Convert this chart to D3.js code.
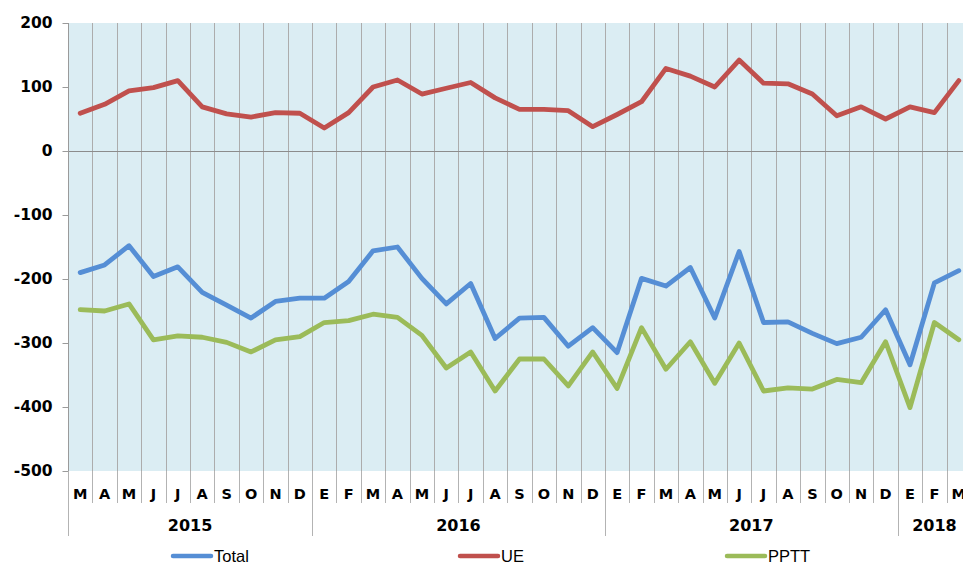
<!DOCTYPE html>
<html>
<head>
<meta charset="utf-8">
<script src="https://cdn.jsdelivr.net/npm/d3@7"></script>
<style>
  html, body { margin: 0; padding: 0; background: #fff; overflow: hidden; }
  svg { display: block; }
</style>
</head>
<body>
<svg id="chart" width="963" height="565"></svg>
<script>
// ---- data ----
const monthLabels = ["M","A","M","J","J","A","S","O","N","D",
  "E","F","M","A","M","J","J","A","S","O","N","D",
  "E","F","M","A","M","J","J","A","S","O","N","D",
  "E","F","M"];
const yearLabels = ["2015", "2016", "2017", "2018"];
const monthsPerYear = [10, 12, 12, 3];
const yTicks = [-500, -400, -300, -200, -100, 0, 100, 200];

const total = [-190, -178, -148, -196, -181, -221, -241, -261, -235, -230, -230,
  -204, -156, -150, -199, -239, -207, -293, -261, -260, -305, -276, -315,
  -199, -211, -182, -261, -157, -268, -267, -285, -301, -291, -248, -334, -206, -187];
const ue = [59, 73, 94, 99, 110, 69, 58, 53, 60, 59, 36,
  60, 100, 111, 89, 98, 107, 83, 65, 65, 63, 38, 57,
  77, 129, 117, 100, 142, 106, 105, 89, 55, 69, 50, 69, 60, 110];
const pptt = [-248, -250, -239, -295, -289, -291, -299, -314, -295, -290, -268,
  -265, -255, -260, -288, -339, -314, -375, -325, -325, -367, -314, -371,
  -276, -341, -298, -363, -300, -375, -370, -372, -357, -362, -298, -401, -268, -295];

const seriesNames = ["Total", "UE", "PPTT"];
const seriesColors = ["#558ed5", "#c0504d", "#9bbb59"];
const seriesData = [total, ue, pptt];

// ---- layout ----
const svg = d3.select("#chart");
const pLeft = 68, pRight = 971, pTop = 23, pBottom = 471;
const idx = d3.range(monthLabels.length);

const x = d3.scaleBand().domain(idx).range([pLeft, pRight]).paddingInner(0).paddingOuter(0);
const y = d3.scaleLinear().domain([-500, 200]).range([pBottom, pTop]);

// background
svg.append("rect")
  .attr("x", pLeft).attr("y", pTop)
  .attr("width", pRight - pLeft).attr("height", pBottom - pTop)
  .attr("fill", "#dbedf3");

// vertical gridlines at month boundaries
const gridColor = "#acacac";
svg.append("g").selectAll("line")
  .data(idx.slice(1))
  .join("line")
  .attr("x1", d => Math.round(x(d)) + 0.5).attr("x2", d => Math.round(x(d)) + 0.5)
  .attr("y1", pTop).attr("y2", pBottom)
  .attr("stroke", gridColor).attr("stroke-width", 1);

// zero line
svg.append("line")
  .attr("x1", pLeft).attr("x2", pRight)
  .attr("y1", Math.round(y(0)) + 0.5).attr("y2", Math.round(y(0)) + 0.5)
  .attr("stroke", "#8c8c8c").attr("stroke-width", 1);

// y axis
const yAxis = d3.axisLeft(y).tickValues(yTicks).tickSize(6).tickPadding(10)
  .tickFormat(d => String(d));
const yG = svg.append("g").attr("transform", `translate(${pLeft + 0.5},0)`).call(yAxis);
yG.select(".domain").attr("stroke", "#9a9a9a").attr("d", `M0,${pTop}V${pBottom}`);
yG.selectAll(".tick line").attr("stroke", "#9a9a9a");
yG.selectAll(".tick text")
  .attr("font-family", "'DejaVu Sans', Verdana, sans-serif")
  .attr("font-weight", "bold")
  .attr("font-size", "15.5px")
  .attr("fill", "#000");

// x axis: month labels and separators
const axisG = svg.append("g");
const bx = i => (i < monthLabels.length ? x(i) : pRight);

axisG.selectAll("line.msep")
  .data(idx.concat([monthLabels.length]))
  .join("line")
  .attr("class", "msep")
  .attr("x1", d => Math.round(bx(d)) + 0.5)
  .attr("x2", d => Math.round(bx(d)) + 0.5)
  .attr("y1", pBottom).attr("y2", 503)
  .attr("stroke", "#b3b3b3");

axisG.selectAll("text.month")
  .data(idx)
  .join("text")
  .attr("class", "month")
  .attr("x", d => x(d) + x.bandwidth() / 2)
  .attr("y", 498.5)
  .attr("text-anchor", "middle")
  .attr("font-family", "'DejaVu Sans', Verdana, sans-serif")
  .attr("font-weight", "bold")
  .attr("font-size", "14.5px")
  .attr("fill", "#000")
  .text(d => monthLabels[d]);

// year groups
let startIdx = 0;
const yearGroups = yearLabels.map((yl, i) => {
  const g = { label: yl, start: startIdx, end: startIdx + monthsPerYear[i] };
  startIdx += monthsPerYear[i];
  return g;
});

axisG.selectAll("line.ysep")
  .data(yearGroups.map(g => g.start))
  .join("line")
  .attr("class", "ysep")
  .attr("x1", d => Math.round(bx(d)) + 0.5).attr("x2", d => Math.round(bx(d)) + 0.5)
  .attr("y1", pBottom).attr("y2", 536)
  .attr("stroke", "#b3b3b3");

axisG.selectAll("text.year")
  .data(yearGroups)
  .join("text")
  .attr("class", "year")
  .attr("x", g => (bx(g.start) + bx(g.end)) / 2)
  .attr("y", 531)
  .attr("text-anchor", "middle")
  .attr("font-family", "'DejaVu Sans', Verdana, sans-serif")
  .attr("font-weight", "bold")
  .attr("font-size", "16px")
  .attr("fill", "#000")
  .text(g => g.label);

// lines
const line = d3.line()
  .x((d, i) => x(i) + x.bandwidth() / 2)
  .y(d => y(d));

svg.append("g").selectAll("path")
  .data(seriesData)
  .join("path")
  .attr("d", d => line(d))
  .attr("fill", "none")
  .attr("stroke", (d, i) => seriesColors[i])
  .attr("stroke-width", 4.8)
  .attr("stroke-linejoin", "round")
  .attr("stroke-linecap", "round");

// legend
const legendX = [173, 460, 727];
const leg = svg.append("g").selectAll("g")
  .data(seriesNames)
  .join("g")
  .attr("transform", (d, i) => `translate(${legendX[i]},556)`);
leg.append("line")
  .attr("x1", 0).attr("x2", 38).attr("y1", 0).attr("y2", 0)
  .attr("stroke", (d, i) => seriesColors[i])
  .attr("stroke-width", 4.5)
  .attr("stroke-linecap", "round");
leg.append("text")
  .attr("x", 41).attr("y", 5.5)
  .attr("font-family", "'Liberation Sans', Arial, sans-serif")
  .attr("font-size", "16.5px")
  .attr("fill", "#000")
  .text(d => d);
</script>
</body>
</html>
